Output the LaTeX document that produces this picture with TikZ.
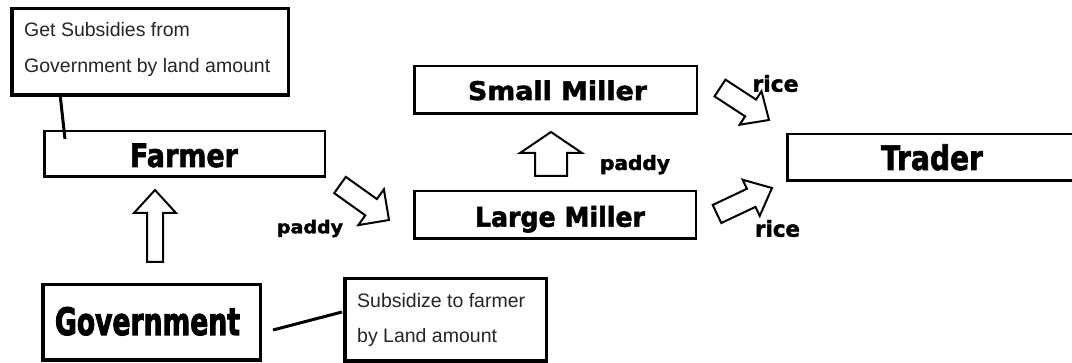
\documentclass[tikz,border=0pt]{standalone}
\usepackage{fontspec}
\usepackage{graphicx}
\setmainfont{Liberation Sans}
\newfontfamily\heavyfont{DejaVu Sans}[BoldFeatures={FakeBold=2}]
\newfontfamily\blackfont{DejaVu Sans}[BoldFeatures={FakeBold=3}]
\usetikzlibrary{calc}

% bold label squeezed to a given width and height (in pt)
\newcommand{\fitlabel}[3]{\resizebox{#1pt}{#2pt}{\heavyfont\bfseries #3}}
\newcommand{\fitblack}[3]{\resizebox{#1pt}{#2pt}{\blackfont\bfseries #3}}

% hollow block arrow: tail, tip, half shaft width, half head width, head length
\newcommand{\blockarrow}[5]{%
  \draw[flowarrow]
    ($(#1)!#3!90:(#2)$) --
    ($(#2)!#5!(#1)!#3!-90:(#1)$) --
    ($(#2)!#5!(#1)!#4!-90:(#1)$) --
    (#2) --
    ($(#2)!#5!(#1)!#4!90:(#1)$) --
    ($(#2)!#5!(#1)!#3!90:(#1)$) --
    ($(#1)!#3!-90:(#2)$) -- cycle;}

\tikzset{
  thinbox/.style={draw, line width=2.5pt, inner sep=0pt, fill=white},
  thickbox/.style={draw, line width=3.5pt, inner sep=0pt, fill=white},
  lbl/.style={inner sep=0pt, anchor=base},
  note/.style={inner sep=0pt, anchor=base west, text=black!85,
               font=\fontsize{19.5}{22}\selectfont},
  flowarrow/.style={draw, line width=2pt, fill=white, line join=miter},
  leader/.style={line width=3pt},
}

\begin{document}
\begin{tikzpicture}[x=1pt, y=-1pt]
\useasboundingbox (0,0) rectangle (1072,363);
\clip (0,0) rectangle (1072,363);
\fill[white] (0,0) rectangle (1072,363);

% boxes
\node[thickbox, minimum width=276.5pt, minimum height=86.5pt] (topnote) at (150,52) {};
\node[thinbox, minimum width=280.5pt, minimum height=45.5pt] (farmer) at (184.5,154) {};
\node[thinbox, minimum width=282.5pt, minimum height=47.5pt] (small) at (555.5,90) {};
\node[thinbox, minimum width=281.5pt, minimum height=47.5pt] (large) at (555,215) {};
\node[thinbox, minimum width=293.5pt, minimum height=46.5pt] (trader) at (934,157.5) {};
\node[thickbox, minimum width=217.5pt, minimum height=75.5pt] (gov) at (151.5,322.5) {};
\node[thickbox, minimum width=201.5pt, minimum height=82.5pt] (subnote) at (445.5,320) {};

% box labels
\node[lbl] (farmerlbl) at (184,167) {\fitlabel{108}{23.5}{Farmer}};
\node[lbl] (smalllbl) at (557.5,100) {\fitlabel{179}{19.5}{Small Miller}};
\node[lbl] (largelbl) at (560,226.7) {\fitlabel{170}{20.7}{Large Miller}};
\node[lbl] (traderlbl) at (932,170) {\fitlabel{102}{25.7}{Trader}};
\node[lbl] (govlbl) at (147.5,335) {\fitblack{185}{28}{Government}};

% callout texts
\node[note] (gs1) at (24,37) {Get Subsidies from};
\node[note] (gs2) at (24,73) {Government by land amount};
\node[note] (sf1) at (357,308) {Subsidize to farmer};
\node[note] (sf2) at (357,343) {by Land amount};

% callout leaders
\coordinate (n1) at (60,94);
\coordinate (n2) at (65,139);
\draw[leader] (n1) -- (n2);
\coordinate (g1) at (273,330);
\coordinate (g2) at (342,312);
\draw[leader] (g1) -- (g2);

% flow arrows
\coordinate (govT) at (155,262);   \coordinate (govH) at (155,190);
\coordinate (fT) at (340,185);     \coordinate (fH) at (389,220);
\coordinate (lmT) at (551,176);    \coordinate (lmH) at (551,132);
\coordinate (smT) at (720,88);     \coordinate (smH) at (769,120);
\coordinate (ltT) at (717,214);    \coordinate (ltH) at (772,188);
\blockarrow{govT}{govH}{8pt}{21pt}{23pt}
\blockarrow{fT}{fH}{10pt}{22pt}{22pt}
\blockarrow{lmT}{lmH}{16pt}{31pt}{21pt}
\blockarrow{smT}{smH}{10pt}{20pt}{22pt}
\blockarrow{ltT}{ltH}{10pt}{20pt}{23pt}

% flow labels
\node[lbl] (paddy1) at (310,233.3) {\fitlabel{66}{13.5}{paddy}};
\node[lbl] (paddy2) at (635,170) {\fitlabel{70}{15}{paddy}};
\node[lbl] (rice1) at (775.5,91.7) {\fitlabel{46}{16.7}{rice}};
\node[lbl] (rice2) at (777.5,236.7) {\fitlabel{45}{16.7}{rice}};
\end{tikzpicture}
\end{document}
